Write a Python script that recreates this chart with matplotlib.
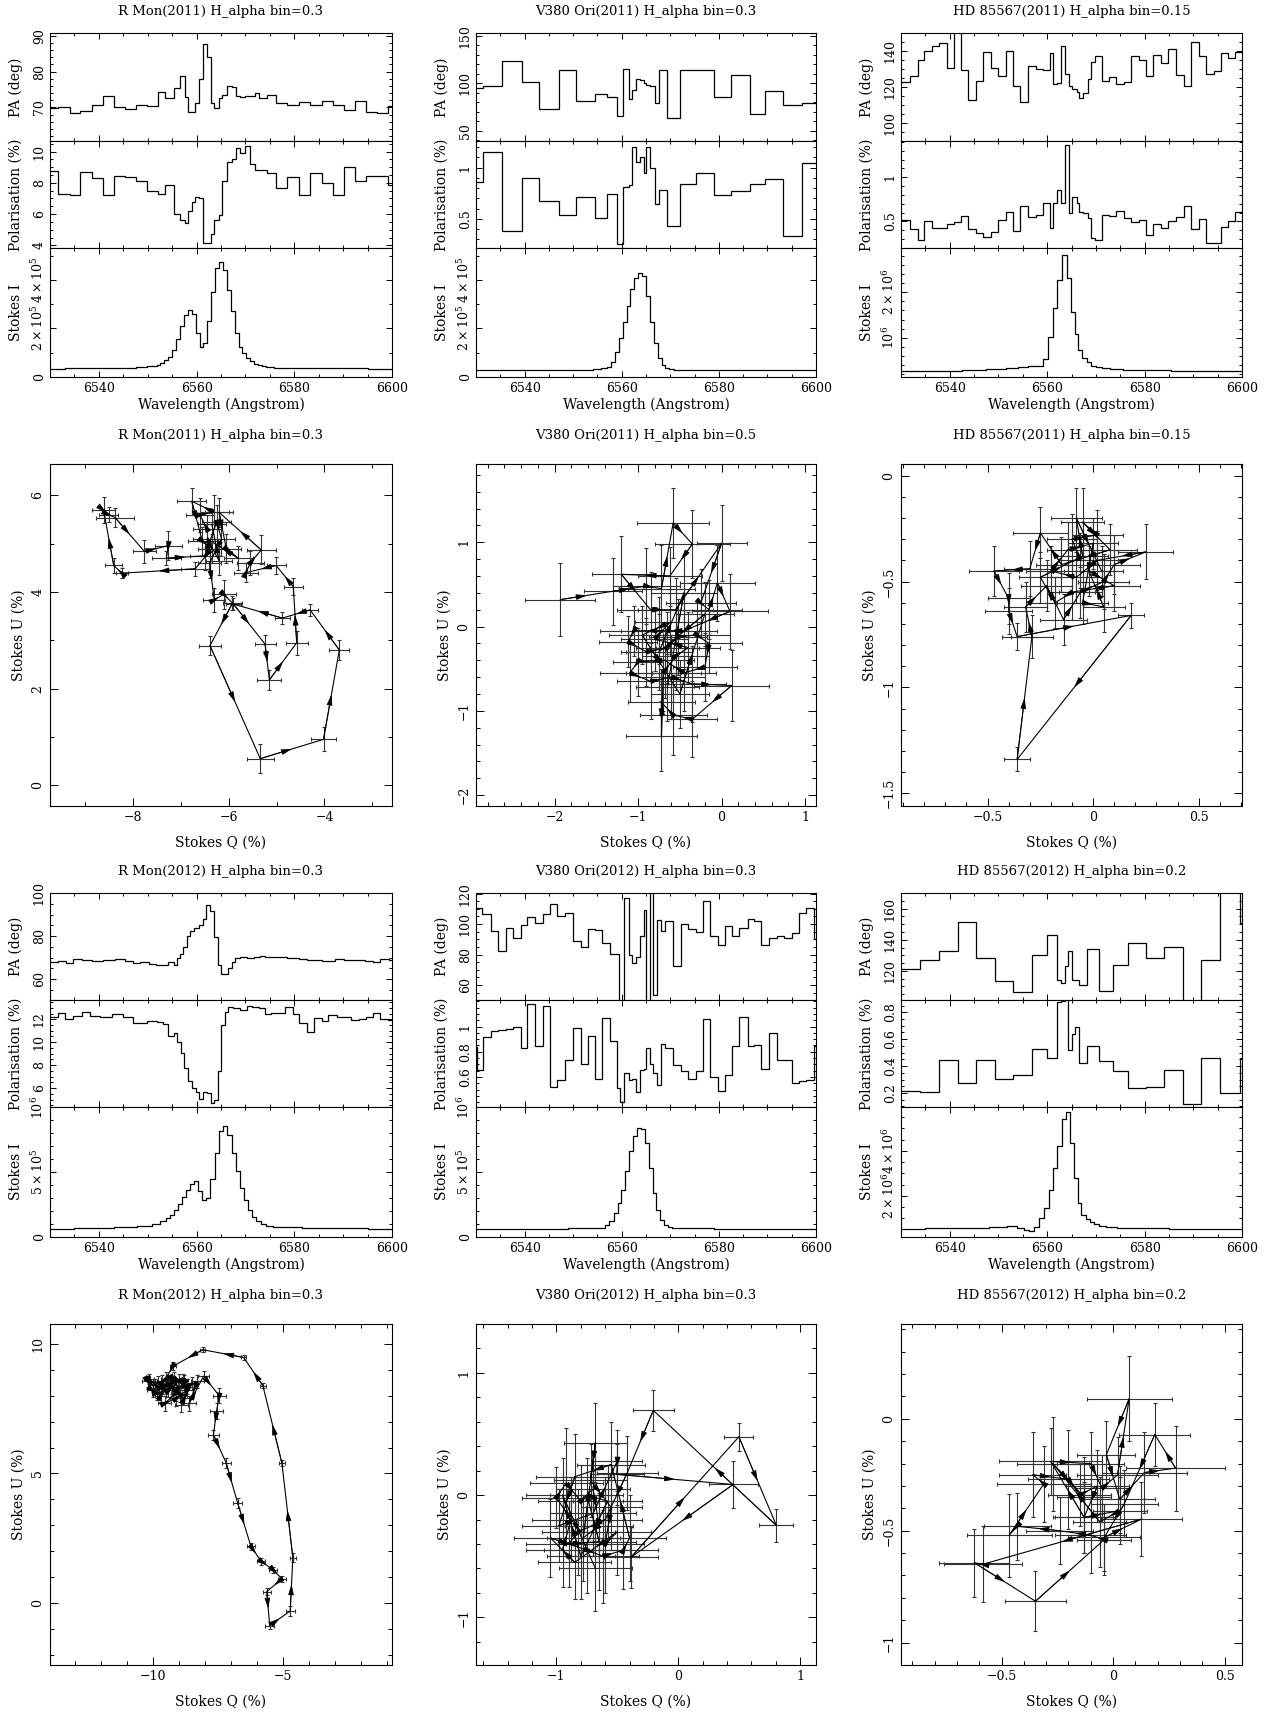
import numpy as np
import matplotlib
matplotlib.use("Agg")
import matplotlib.pyplot as plt
from matplotlib.ticker import FixedLocator, MultipleLocator, FuncFormatter, FixedFormatter

plt.rcParams["font.family"] = ["DejaVu Serif"]
plt.rcParams["mathtext.fontset"] = "dejavuserif"

# ---------------- R Mon 2011 spectrum ----------------
rmon11_edges = [6530.0, 6531.7, 6534.1, 6536.1, 6538.5, 6540.8, 6543.0, 6545.4, 6547.6, 6549.8,
                6552.1, 6553.6, 6555.3, 6556.6, 6557.7, 6558.3, 6559.0, 6559.6, 6560.5, 6561.4,
                6562.1, 6562.9, 6563.5, 6564.5, 6565.2, 6566.2, 6567.2, 6568.1, 6568.9, 6570.0,
                6571.0, 6572.0, 6572.7, 6574.4, 6576.3, 6578.6, 6581.0, 6583.3, 6585.7, 6587.9,
                6590.1, 6592.4, 6594.7, 6596.9, 6599.2, 6600.0]
rmon11_pa = [69.7, 70.0, 68.5, 69.0, 70.8, 73.3, 70.2, 69.5, 70.6, 70.3,
             74.3, 72.7, 75.5, 78.8, 73.0, 68.8, 68.6, 71.1, 77.9, 87.7,
             84.0, 71.1, 69.7, 72.5, 73.6, 76.0, 75.6, 73.3, 73.0, 73.1,
             73.2, 73.9, 72.7, 73.5, 71.3, 70.7, 71.6, 70.8, 71.8, 70.6,
             69.3, 71.8, 68.7, 68.3, 70.5]
rmon11_pol = [8.75, 7.3, 7.2, 8.7, 8.3, 7.2, 8.45, 8.35, 8.1, 7.45,
              7.3, 7.85, 6.0, 5.65, 5.45, 6.2, 6.8, 7.1, 7.0, 4.15,
              4.15, 4.7, 5.6, 5.95, 8.1, 9.35, 9.5, 10.2, 9.9, 10.35,
              9.2, 8.85, 8.8, 8.65, 7.7, 8.4, 7.2, 8.6, 8.0, 7.2,
              9.0, 8.1, 8.45, 8.45, 7.85]
rmon11_wl = [6530, 6536, 6542, 6546, 6549,
             6550.6, 6551.4, 6552.2, 6553.0, 6553.8, 6554.6, 6555.4, 6556.2, 6557.0, 6557.8,
             6558.6, 6559.4, 6560.2, 6561.0, 6561.8, 6562.6, 6563.4, 6564.2, 6565.0, 6565.8,
             6566.6, 6567.4, 6568.2, 6569.0, 6569.8, 6570.6, 6571.4, 6572.2, 6573.0, 6573.8,
             6574.6, 6575.4, 6576.2, 6577.0, 6578.6, 6582, 6590, 6600]
rmon11_flux = np.array([0.345, 0.355, 0.37, 0.39, 0.42,
                        0.44, 0.46, 0.50, 0.58, 0.69, 0.83, 1.10, 1.55, 2.10, 2.55,
                        2.75, 2.60, 1.80, 1.25, 1.38, 2.30, 3.50, 4.50, 4.75, 4.40,
                        3.60, 2.70, 1.80, 1.25, 0.98, 0.78, 0.64, 0.55, 0.49, 0.45,
                        0.42, 0.40, 0.39, 0.38, 0.37, 0.36, 0.35, 0.345]) * 1e5

# ---------------- V380 Ori 2011 spectrum ----------------
v38011_edges = [6530.0, 6531.5, 6535.4, 6539.4, 6543.0, 6547.0, 6550.6, 6554.4, 6556.9, 6559.0,
                6560.3, 6561.4, 6562.2, 6562.9, 6563.8, 6564.6, 6565.1, 6565.8, 6566.9, 6567.7,
                6569.4, 6572.0, 6575.3, 6578.9, 6582.6, 6586.4, 6589.6, 6593.3, 6597.1, 6600.0]
v38011_pa = [94.7, 97.2, 122.9, 101.1, 72.9, 113.4, 80.7, 88.4, 84.9, 65.9,
             114.8, 83.5, 93.0, 104.6, 102.8, 100.0, 98.5, 97.2, 79.6, 113.4,
             63.4, 113.4, 114.1, 85.9, 108.1, 67.6, 91.9, 77.1, 79.6]
v38011_pol = [0.864, 1.156, 0.377, 0.896, 0.669, 0.532, 0.708, 0.506, 0.740, 0.256,
              0.808, 0.831, 1.204, 1.058, 1.107, 0.945, 1.204, 0.994, 0.646, 0.782,
              0.425, 0.841, 0.951, 0.734, 0.776, 0.838, 0.890, 0.334, 1.042]
v38011_wl = [6530, 6540, 6550, 6553, 6555, 6556.6, 6557.4, 6558.2, 6559.0, 6559.8,
             6560.6, 6561.4, 6562.2, 6563.0, 6563.8, 6564.6, 6565.4, 6566.2, 6567.0, 6567.8,
             6568.6, 6569.4, 6570.2, 6571.5, 6575, 6590, 6600]
v38011_flux = np.array([0.27, 0.27, 0.28, 0.29, 0.32, 0.36, 0.41, 0.62, 1.03, 1.61,
                        2.28, 2.94, 3.61, 4.07, 4.28, 4.14, 3.35, 2.28, 1.38, 0.79,
                        0.48, 0.37, 0.32, 0.29, 0.28, 0.275, 0.275]) * 1e5

# ---------------- HD 85567 2011 spectrum ----------------
hd11_edges = [6530.0, 6531.8, 6533.4, 6534.8, 6536.3, 6537.9, 6539.4, 6540.9, 6542.3, 6543.8,
              6545.4, 6546.9, 6548.4, 6550.0, 6551.5, 6552.9, 6554.5, 6556.0, 6557.7, 6559.2,
              6560.6, 6561.3, 6562.1, 6562.9, 6563.6, 6564.4, 6565.2, 6566.1, 6566.6, 6567.3,
              6568.3, 6569.0, 6569.9, 6571.2, 6572.7, 6574.2, 6575.7, 6577.3, 6578.9, 6580.3,
              6581.8, 6583.4, 6584.9, 6586.5, 6588.0, 6589.5, 6591.1, 6592.6, 6594.2, 6595.7,
              6597.1, 6598.6, 6600.0]
hd11_pa = [122.7, 126.0, 135.3, 140.0, 142.8, 144.7, 130.7, 160.0, 129.8, 113.0,
           123.6, 139.6, 130.7, 126.0, 140.0, 120.8, 111.7, 131.6, 130.3, 129.8,
           139.1, 121.8, 122.3, 142.8, 127.5, 120.8, 119.0, 117.1, 114.0, 116.7,
           124.7, 134.0, 137.2, 123.6, 125.7, 121.8, 122.7, 137.6, 135.0, 126.0,
           138.1, 133.5, 141.3, 127.0, 120.8, 145.2, 137.2, 127.5, 129.2, 139.1,
           136.3, 139.6]
hd11_pol = [0.52, 0.41, 0.29, 0.51, 0.43, 0.43, 0.47, 0.49, 0.56, 0.41,
            0.37, 0.32, 0.38, 0.52, 0.61, 0.39, 0.67, 0.55, 0.575, 0.71,
            0.42, 0.71, 0.85, 0.71, 1.36, 0.60, 0.78, 0.71, 0.61, 0.59,
            0.54, 0.31, 0.29, 0.575, 0.56, 0.62, 0.54, 0.49, 0.52, 0.35,
            0.47, 0.43, 0.50, 0.55, 0.67, 0.41, 0.53, 0.26, 0.26, 0.44,
            0.51, 0.61]
hd11_wl = [6530, 6540, 6545, 6550, 6553, 6555, 6557, 6558.6, 6559.75, 6560.8,
           6561.7, 6562.55, 6563.5, 6564.45, 6565.35, 6566.1, 6566.75, 6567.65, 6568.6, 6569.45,
           6570.5, 6572, 6574, 6577, 6581, 6590, 6600]
hd11_flux = np.array([0.28, 0.28, 0.29, 0.31, 0.34, 0.36, 0.38, 0.39, 0.53, 1.02,
                      1.65, 2.27, 2.82, 2.31, 1.57, 1.08, 0.73, 0.56, 0.46, 0.39,
                      0.35, 0.33, 0.31, 0.295, 0.285, 0.28, 0.28]) * 1e6

# ---------------- R Mon 2012 spectrum ----------------
rmon12_pa_edges = [6530.0, 6531.7, 6533.3, 6534.8, 6536.5, 6538.5, 6540.9, 6543.3, 6545.4, 6546.9,
                   6548.4, 6550.2, 6551.7, 6554.1, 6555.3, 6556.0, 6556.6, 6557.3, 6558.0, 6558.7,
                   6559.5, 6560.4, 6561.3, 6562.0, 6562.8, 6563.6, 6564.3, 6565.0, 6566.5, 6567.2,
                   6567.9, 6568.8, 6570.3, 6571.8, 6573.0, 6574.1, 6575.1, 6578.5, 6580.9, 6582.5,
                   6585.7, 6588.4, 6590.1, 6592.2, 6594.5, 6596.1, 6597.6, 6599.3, 6600.0]
rmon12_pa = [68.1, 68.5, 67.6, 69.5, 68.8, 68.2, 68.8, 69.1, 68.2, 67.3,
             67.9, 67.0, 66.4, 68.1, 66.5, 69.6, 71.5, 74.7, 80.0, 82.3,
             83.6, 85.0, 87.8, 94.4, 91.8, 79.7, 66.5, 62.3, 65.0, 68.1,
             69.6, 70.4, 69.9, 70.1, 70.7, 70.1, 70.1, 69.8, 69.5, 68.8,
             68.5, 69.1, 68.8, 68.8, 68.5, 67.9, 69.5, 68.8]
rmon12_pol_edges = [6530.0, 6531.7, 6533.1, 6534.8, 6536.5, 6538.1, 6540.2, 6542.6, 6545.0, 6546.9,
                    6549.8, 6551.9, 6553.1, 6554.2, 6555.3, 6556.0, 6556.8, 6557.5, 6558.2, 6559.0,
                    6559.8, 6560.5, 6561.4, 6562.2, 6562.9, 6563.5, 6564.4, 6565.0, 6565.9, 6566.5,
                    6567.4, 6568.8, 6570.4, 6571.3, 6572.7, 6574.1, 6575.2, 6578.2, 6579.7, 6580.9,
                    6582.5, 6584.1, 6585.7, 6587.0, 6588.7, 6591.7, 6593.2, 6594.7, 6596.1, 6597.6,
                    6599.2, 6600.0]
rmon12_pol = [12.17, 12.58, 12.0, 12.32, 12.67, 12.29, 12.17, 12.43, 12.23, 11.65,
              11.86, 11.8, 11.59, 10.55, 10.84, 10.06, 9.04, 7.74, 6.58, 6.0,
              5.62, 5.07, 5.62, 5.57, 4.70, 4.99, 7.45, 11.51, 12.67, 13.1,
              13.01, 12.81, 13.19, 13.1, 12.96, 12.46, 12.52, 13.1, 12.46, 11.65,
              10.87, 12.09, 11.88, 12.38, 12.23, 11.94, 12.0, 12.17, 12.58, 12.0,
              11.94]
rmon12_wl = [6530, 6540, 6546, 6549.8, 6551.9, 6553.2, 6554.2, 6554.9, 6555.8, 6556.6,
             6557.5, 6558.2, 6559.0, 6559.9, 6560.7, 6561.6, 6562.4, 6563.3, 6564.2, 6565.0,
             6565.9, 6566.7, 6567.6, 6568.4, 6569.3, 6570.1, 6571.0, 6571.8, 6572.7, 6573.7,
             6574.7, 6576.4, 6578, 6580, 6583, 6590, 6600]
rmon12_flux = np.array([0.065, 0.068, 0.075, 0.083, 0.104, 0.122, 0.143, 0.169, 0.208, 0.252,
                        0.306, 0.364, 0.41, 0.429, 0.358, 0.286, 0.299, 0.447, 0.649, 0.818,
                        0.857, 0.784, 0.649, 0.506, 0.377, 0.286, 0.208, 0.156, 0.122, 0.099,
                        0.083, 0.078, 0.075, 0.078, 0.07, 0.066, 0.065]) * 1e6

# ---------------- V380 Ori 2012 spectrum ----------------
v38012_pa_edges = [6530.0, 6531.2, 6533.1, 6534.6, 6536.2, 6537.7, 6539.3, 6540.6, 6542.1, 6543.7,
                   6545.2, 6546.7, 6548.3, 6550.0, 6551.6, 6553.1, 6554.5, 6556.0, 6557.5, 6559.5,
                   6560.5, 6561.4, 6562.2, 6562.9, 6563.8, 6564.5, 6565.1, 6565.8, 6566.5, 6567.3,
                   6568.0, 6568.9, 6570.6, 6572.2, 6573.7, 6575.3, 6576.8, 6578.2, 6579.8, 6581.3,
                   6582.8, 6584.2, 6585.9, 6587.3, 6588.7, 6590.3, 6591.9, 6593.5, 6595.1, 6596.6,
                   6597.9, 6599.5, 6600.0]
v38012_pa = [110.8, 106.9, 95.3, 82.5, 97.7, 91.0, 99.3, 104.7, 101.0, 106.3,
             113.5, 105.2, 107.6, 88.8, 84.7, 96.7, 95.8, 87.7, 80.7, 35.0,
             117.4, 79.6, 74.6, 78.5, 92.3, 109.5, 35.0, 135.0, 53.5, 102.5,
             95.3, 102.1, 72.4, 100.0, 97.1, 94.9, 115.2, 92.1, 86.2, 98.6,
             92.3, 97.5, 103.2, 101.9, 86.2, 91.2, 92.1, 91.2, 94.3, 107.6,
             110.6, 90.1]
v38012_pol_edges = [6530.0, 6530.3, 6531.5, 6533.1, 6534.6, 6536.2, 6537.7, 6539.3, 6540.6, 6542.1,
                    6543.7, 6545.2, 6546.7, 6548.3, 6550.0, 6551.6, 6553.1, 6554.5, 6556.0, 6557.5,
                    6559.0, 6559.7, 6560.5, 6561.4, 6562.2, 6562.9, 6563.8, 6564.5, 6565.1, 6565.8,
                    6566.5, 6567.3, 6568.0, 6568.9, 6570.6, 6572.2, 6573.7, 6575.3, 6576.8, 6578.2,
                    6579.8, 6581.3, 6582.8, 6584.2, 6585.9, 6587.3, 6588.7, 6590.3, 6591.9, 6593.5,
                    6595.1, 6596.6, 6597.9, 6599.5, 6600.0]
v38012_pol = [0.837, 0.653, 0.916, 0.968, 0.974, 0.982, 0.995, 0.829, 1.18, 0.845,
              1.166, 0.521, 0.574, 0.732, 0.987, 0.70, 0.924, 0.587, 1.066, 0.882,
              0.516, 0.403, 0.632, 0.574, 0.587, 0.482, 0.653, 0.661, 0.829, 0.70,
              0.634, 0.539, 0.863, 0.829, 0.692, 0.647, 0.587, 0.647, 1.061, 0.60,
              0.487, 0.618, 0.845, 1.074, 0.845, 0.855, 0.661, 0.95, 0.739, 0.732,
              0.555, 0.566, 0.574, 0.845]
v38012_wl = [6530, 6545, 6553, 6555.5, 6556.2, 6557.0, 6557.9, 6558.8, 6559.5, 6560.3,
             6561.2, 6561.9, 6562.7, 6563.6, 6564.3, 6565.1, 6566.0, 6566.7, 6567.5, 6568.4,
             6569.1, 6569.9, 6571.0, 6573, 6585, 6600]
v38012_flux = np.array([0.065, 0.065, 0.066, 0.068, 0.07, 0.091, 0.122, 0.182, 0.26, 0.364,
                        0.506, 0.667, 0.779, 0.844, 0.836, 0.727, 0.532, 0.338, 0.208, 0.135,
                        0.096, 0.078, 0.07, 0.066, 0.065, 0.065]) * 1e6

# ---------------- HD 85567 2012 spectrum ----------------
hd12_pa_edges = [6530.0, 6533.9, 6537.8, 6541.6, 6545.4, 6549.2, 6552.9, 6556.8, 6559.9, 6562.0,
                 6562.9, 6563.7, 6564.2, 6565.1, 6566.6, 6568.2, 6570.7, 6573.5, 6576.6, 6580.3,
                 6584.0, 6587.8, 6591.6, 6595.4, 6599.5, 6600.0]
hd12_pa = [121.3, 127.1, 132.9, 151.4, 128.6, 113.5, 106.2, 130.3, 142.8, 114.2,
           112.5, 123.2, 132.5, 114.2, 111.0, 134.0, 107.3, 123.9, 137.8, 128.2,
           135.7, 95.0, 127.1, 175.0, 150.8]
hd12_pol_edges = [6530.0, 6533.9, 6537.8, 6541.6, 6545.4, 6549.2, 6552.9, 6556.8, 6559.9, 6562.0,
                  6562.9, 6563.7, 6564.2, 6565.1, 6565.8, 6566.6, 6568.2, 6570.7, 6573.5, 6576.6,
                  6580.3, 6584.0, 6587.8, 6591.6, 6595.4, 6599.5, 6600.0]
hd12_pol = [0.215, 0.207, 0.442, 0.274, 0.442, 0.306, 0.331, 0.528, 0.462, 0.874,
            0.886, 0.90, 0.523, 0.640, 0.694, 0.425, 0.546, 0.437, 0.360, 0.237,
            0.244, 0.373, 0.116, 0.462, 0.200, 0.459]
hd12_wl = [6530, 6540, 6546, 6550.3, 6553.1, 6554.5, 6555.8, 6556.8, 6557.9, 6558.9,
           6559.9, 6560.8, 6561.6, 6562.5, 6563.4, 6564.2, 6565.1, 6565.9, 6566.6, 6567.5,
           6568.3, 6569.2, 6570.2, 6571.2, 6572.9, 6575.7, 6580, 6590, 6600]
hd12_flux = np.array([0.54, 0.55, 0.58, 0.62, 0.65, 0.57, 0.47, 0.44, 0.62, 0.99,
                      1.44, 2.24, 3.25, 4.23, 5.43, 5.73, 4.35, 2.80, 1.67, 1.14,
                      0.95, 0.84, 0.74, 0.66, 0.62, 0.57, 0.55, 0.54, 0.54]) * 1e6

# ---------------- QU tracks ----------------
rmon11_q = [-6.45, -6.60, -6.30, -6.77, -6.55, -6.35, -6.70, -8.23, -8.40, -8.61, -8.50, -8.37,
            -7.76, -7.26, -7.30, -6.50, -6.25, -6.15, -6.40, -6.30, -6.10, -5.92, -6.39, -5.34,
            -4.02, -3.69, -4.30, -4.88, -5.90, -5.24, -5.15, -4.58, -4.65, -5.01, -5.64, -5.55,
            -5.32, -6.20, -6.05, -5.80, -6.45, -6.20, -6.35]
rmon11_u = [5.30, 5.60, 5.65, 5.88, 5.05, 4.90, 4.48, 4.39, 4.55, 5.69, 5.60, 5.54,
            4.84, 4.96, 4.70, 4.75, 5.45, 5.10, 4.60, 3.84, 3.95, 3.77, 2.89, 0.55,
            0.95, 2.80, 3.63, 3.46, 3.75, 2.92, 2.18, 2.95, 4.11, 4.55, 4.40, 4.60,
            4.87, 5.65, 4.90, 4.70, 5.10, 4.65, 5.40]
rmon11_qe = [0.30, 0.30, 0.30, 0.30, 0.30, 0.30, 0.29, 0.13, 0.18, 0.24, 0.20, 0.40,
             0.24, 0.28, 0.30, 0.30, 0.30, 0.28, 0.25, 0.23, 0.25, 0.20, 0.22, 0.28,
             0.27, 0.21, 0.17, 0.16, 0.15, 0.22, 0.25, 0.23, 0.20, 0.20, 0.25, 0.28,
             0.30, 0.30, 0.30, 0.30, 0.30, 0.28, 0.30]
rmon11_ue = [0.30, 0.35, 0.35, 0.28, 0.30, 0.30, 0.15, 0.10, 0.15, 0.27, 0.15, 0.20,
             0.24, 0.30, 0.15, 0.30, 0.35, 0.35, 0.30, 0.25, 0.30, 0.15, 0.20, 0.30,
             0.25, 0.20, 0.13, 0.12, 0.12, 0.20, 0.20, 0.25, 0.18, 0.18, 0.20, 0.25,
             0.30, 0.30, 0.30, 0.25, 0.30, 0.30, 0.30]

v38011_q = [-1.93, -1.30, -0.90, -0.72, -0.58, -0.35, -0.62, -1.20, -0.85, -0.55, 0.00, -0.25,
            -0.15, -0.05, 0.10, -0.45, -0.75, -1.05, -1.12, -0.90, -0.65, -0.52, -0.30, -0.15,
            -0.20, -0.45, -0.68, -1.00, -1.10, -0.85, -0.60, -0.35, 0.12, -0.35, -0.58, -0.72,
            -0.72, -0.70, -0.55, -0.40, -0.80, -0.62, -0.95, -0.50, -0.20, -0.75, -0.45, -0.65]
v38011_u = [0.32, 0.42, 0.48, 0.45, 1.23, 0.98, 0.60, 0.62, 0.20, 0.20, 0.99, 0.28,
            0.20, 0.52, 0.18, -0.05, -0.05, -0.05, -0.18, -0.30, -0.25, -0.12, -0.10, -0.20,
            -0.48, -0.55, -0.40, -0.42, -0.55, -0.65, -0.60, -0.68, -0.70, -1.10, -1.05, -0.90,
            -1.30, -0.55, -0.35, -0.25, -0.15, 0.05, -0.10, -0.80, 0.15, -0.30, 0.40, -0.72]
v38011_qe = [0.42, 0.35, 0.40, 0.40, 0.43, 0.45, 0.38, 0.35, 0.40, 0.45, 0.30, 0.42,
             0.40, 0.45, 0.45, 0.40, 0.45, 0.40, 0.35, 0.30, 0.38, 0.35, 0.40, 0.40,
             0.38, 0.38, 0.35, 0.30, 0.35, 0.40, 0.40, 0.40, 0.45, 0.30, 0.40, 0.40,
             0.43, 0.45, 0.40, 0.38, 0.40, 0.42, 0.40, 0.35, 0.35, 0.40, 0.40, 0.38]
v38011_ue = [0.43, 0.40, 0.45, 0.52, 0.42, 0.40, 0.35, 0.45, 0.45, 0.38, 0.45, 0.40,
             0.35, 0.45, 0.45, 0.45, 0.40, 0.30, 0.30, 0.40, 0.42, 0.45, 0.38, 0.35,
             0.40, 0.45, 0.45, 0.40, 0.35, 0.45, 0.50, 0.45, 0.42, 0.45, 0.48, 0.40,
             0.42, 0.45, 0.40, 0.42, 0.38, 0.40, 0.35, 0.40, 0.38, 0.45, 0.45, 0.40]

hd11_q = [-0.06, -0.10, 0.02, -0.05, 0.08, -0.15, -0.25, -0.30, -0.47, -0.40, -0.40, -0.36,
          0.18, -0.36, -0.29, -0.32, -0.22, -0.14, -0.06, 0.05, 0.10, 0.25, 0.02, -0.08,
          -0.20, -0.12, 0.00, -0.05, 0.05, -0.02, 0.10, -0.10, -0.18, -0.25, -0.05, -0.08, 0.04]
hd11_u = [-0.40, -0.30, -0.28, -0.22, -0.35, -0.42, -0.27, -0.44, -0.45, -0.58, -0.64, -0.76,
          -0.66, -1.34, -0.76, -0.62, -0.52, -0.68, -0.55, -0.50, -0.42, -0.36, -0.40, -0.48,
          -0.45, -0.35, -0.32, -0.60, -0.62, -0.45, -0.52, -0.55, -0.60, -0.48, -0.38, -0.20, -0.45]
hd11_qe = [0.10, 0.12, 0.12, 0.10, 0.13, 0.12, 0.13, 0.12, 0.12, 0.10, 0.11, 0.07,
           0.06, 0.06, 0.10, 0.10, 0.12, 0.11, 0.10, 0.12, 0.12, 0.13, 0.10, 0.12,
           0.12, 0.10, 0.12, 0.12, 0.10, 0.12, 0.12, 0.11, 0.12, 0.10, 0.12, 0.12, 0.10]
hd11_ue = [0.13, 0.12, 0.12, 0.16, 0.12, 0.13, 0.12, 0.13, 0.12, 0.12, 0.11, 0.065,
           0.06, 0.057, 0.10, 0.12, 0.12, 0.12, 0.12, 0.13, 0.14, 0.13, 0.14, 0.12,
           0.12, 0.13, 0.12, 0.10, 0.12, 0.12, 0.12, 0.13, 0.12, 0.12, 0.16, 0.14, 0.12]

rmon12_q = [-9.60, -9.80, -10.20, -10.00, -9.70, -9.50, -9.20, -9.00, -8.80, -9.10, -9.55, -9.10,
            -8.70, -8.90, -8.50, -8.30, -8.60, -8.05, -7.45, -7.55, -7.67, -7.18, -6.74, -6.23,
            -5.83, -5.38, -5.04, -5.62, -5.51, -4.72, -4.62, -5.04, -5.77, -6.51, -8.08, -9.23,
            -9.50, -9.90, -10.15, -9.85, -9.40, -9.00, -8.70, -9.25, -8.95, -9.35, -8.85, -9.65]
rmon12_u = [8.30, 8.50, 8.55, 8.20, 8.00, 8.40, 8.60, 8.30, 8.50, 8.10, 7.70, 7.90,
            8.20, 7.65, 8.45, 8.55, 7.70, 8.75, 8.00, 7.40, 6.49, 5.40, 3.86, 2.19,
            1.61, 1.29, 0.94, 0.45, -0.86, -0.30, 1.76, 5.40, 8.38, 9.47, 9.77, 9.13,
            8.65, 8.40, 8.65, 8.10, 8.20, 8.55, 8.35, 8.30, 8.05, 8.45, 8.60, 8.55]
rmon12_qe = [0.20, 0.20, 0.20, 0.22, 0.20, 0.22, 0.22, 0.22, 0.25, 0.22, 0.25, 0.25,
             0.25, 0.25, 0.25, 0.25, 0.25, 0.20, 0.25, 0.25, 0.20, 0.18, 0.18, 0.15,
             0.15, 0.15, 0.15, 0.15, 0.18, 0.18, 0.12, 0.10, 0.10, 0.10, 0.10, 0.12,
             0.20, 0.20, 0.20, 0.20, 0.22, 0.22, 0.22, 0.22, 0.22, 0.22, 0.22, 0.20]
rmon12_ue = [0.25, 0.25, 0.20, 0.25, 0.25, 0.25, 0.30, 0.30, 0.30, 0.30, 0.30, 0.30,
             0.30, 0.30, 0.25, 0.25, 0.30, 0.20, 0.30, 0.30, 0.20, 0.20, 0.20, 0.15,
             0.12, 0.12, 0.12, 0.15, 0.15, 0.20, 0.18, 0.12, 0.10, 0.10, 0.10, 0.15,
             0.25, 0.25, 0.20, 0.25, 0.25, 0.30, 0.30, 0.25, 0.30, 0.25, 0.25, 0.25]

v38012_q = [-0.95, -0.88, -1.00, -0.92, -0.80, -0.70, -0.65, -0.78, -0.68, -0.72,
            -0.55, -0.60, -0.50, -0.85, -1.05, -0.75, -0.62, -0.45, -0.40, -0.55,
            -0.85, -0.98, -0.70, -0.50, -0.505, 0.45, -0.39, 0.497, 0.805, -0.205,
            -0.42, -0.60, -0.82, -0.90, -0.65, -0.75, -0.58, -0.80, -0.95, -0.68]
v38012_u = [-0.45, -0.20, -0.02, 0.10, -0.05, 0.05, -0.25, -0.35, 0.43, 0.12,
            -0.10, -0.40, -0.30, -0.55, -0.35, -0.45, -0.50, -0.45, -0.35, 0.25,
            0.15, -0.25, -0.15, 0.28, 0.17, 0.087, -0.51, 0.477, -0.248, 0.693,
            0.18, -0.20, -0.30, -0.40, -0.38, 0.00, -0.05, -0.50, 0.00, -0.60]
v38012_qe = [0.30, 0.32, 0.28, 0.30, 0.35, 0.30, 0.28, 0.30, 0.26, 0.30,
             0.25, 0.32, 0.28, 0.30, 0.30, 0.35, 0.30, 0.28, 0.30, 0.28,
             0.32, 0.30, 0.35, 0.20, 0.22, 0.20, 0.22, 0.12, 0.14, 0.17,
             0.25, 0.30, 0.30, 0.35, 0.30, 0.30, 0.28, 0.28, 0.30, 0.30]
v38012_ue = [0.30, 0.35, 0.25, 0.45, 0.30, 0.30, 0.30, 0.35, 0.32, 0.30,
             0.35, 0.40, 0.35, 0.30, 0.32, 0.35, 0.38, 0.32, 0.35, 0.35,
             0.35, 0.30, 0.35, 0.25, 0.25, 0.195, 0.25, 0.115, 0.137, 0.17,
             0.30, 0.35, 0.35, 0.35, 0.40, 0.30, 0.30, 0.35, 0.30, 0.35]

hd12_q = [-0.13, -0.28, -0.10, -0.05, 0.02, 0.072, -0.03, 0.03, 0.14, 0.28, 0.187, 0.05,
          -0.04, 0.127, -0.585, -0.622, -0.348, -0.04, -0.10, -0.24, -0.43, -0.466, -0.31, -0.36,
          -0.20, -0.15, -0.07, -0.13, 0.03, -0.06, -0.27, -0.13]
hd12_u = [-0.44, -0.19, -0.20, -0.31, -0.25, 0.09, -0.16, -0.36, -0.24, -0.22, -0.07, -0.38,
          -0.53, -0.448, -0.65, -0.643, -0.815, -0.54, -0.52, -0.50, -0.48, -0.52, -0.29, -0.25,
          -0.27, -0.34, -0.30, -0.44, -0.41, -0.46, -0.20, -0.35]
hd12_qe = [0.14, 0.23, 0.15, 0.12, 0.18, 0.19, 0.13, 0.16, 0.19, 0.22, 0.16, 0.15,
           0.16, 0.18, 0.175, 0.157, 0.137, 0.12, 0.16, 0.15, 0.15, 0.19, 0.21, 0.15,
           0.18, 0.14, 0.14, 0.13, 0.12, 0.12, 0.16, 0.12]
hd12_ue = [0.16, 0.15, 0.14, 0.15, 0.17, 0.19, 0.15, 0.15, 0.18, 0.19, 0.14, 0.15,
           0.15, 0.167, 0.17, 0.153, 0.134, 0.16, 0.17, 0.15, 0.15, 0.185, 0.17, 0.19,
           0.22, 0.14, 0.16, 0.16, 0.15, 0.20, 0.21, 0.18]

# ---------------- figure ----------------
W, H = 1267, 1714
fig = plt.figure(figsize=(W / 100, H / 100), dpi=100)
COLS = [(50, 392), (476, 816), (901, 1242)]
TICK_FS = 9
LABEL_FS = 10
TITLE_FS = 9.5


def px_axes(x0, y0, x1, y1):
    return fig.add_axes([x0 / W, 1 - y1 / H, (x1 - x0) / W, (y1 - y0) / H])


def num(v, pos=None):
    return f"{v:g}".replace("-", "\u2212")


def style(ax, xmaj, xmin, ymaj, ymin, big=False):
    ax.xaxis.set_major_locator(FixedLocator(xmaj))
    ax.xaxis.set_minor_locator(MultipleLocator(xmin))
    ax.yaxis.set_major_locator(FixedLocator(ymaj))
    ax.yaxis.set_minor_locator(MultipleLocator(ymin))
    ax.xaxis.set_major_formatter(FuncFormatter(num))
    ax.yaxis.set_major_formatter(FuncFormatter(num))
    ax.tick_params(which="both", direction="in", top=True, right=True,
                   labelsize=TICK_FS, width=0.7, pad=3.5)
    ax.tick_params(which="major", length=6 if big else 4)
    ax.tick_params(which="minor", length=3 if big else 2)
    ax.tick_params(axis="y", labelrotation=90, pad=4 if big else 3)
    for s in ax.spines.values():
        s.set_linewidth(0.8)


def spectrum(col, top, b1, b2, bottom, s):
    x0, x1 = COLS[col]
    ax_pa = px_axes(x0, top, x1, b1)
    ax_pol = px_axes(x0, b1, x1, b2)
    ax_i = px_axes(x0, b2, x1, bottom)

    ax_pa.stairs(s["pa"], s["pa_edges"], baseline=None, color="k", lw=0.9)
    ax_pol.stairs(s["pol"], s["pol_edges"], baseline=None, color="k", lw=0.9)
    ax_i.step(s["wl"], s["flux"], where="mid", color="k", lw=0.9)

    ax_pa.set_ylim(*s["pa_lim"])
    ax_pol.set_ylim(*s["pol_lim"])
    ax_i.set_ylim(*s["i_lim"])
    for ax in (ax_pa, ax_pol, ax_i):
        ax.set_xlim(6530, 6600)
    style(ax_pa, [6540, 6560, 6580, 6600], 5, s["pa_ticks"], s["pa_minor"])
    style(ax_pol, [6540, 6560, 6580, 6600], 5, s["pol_ticks"], s["pol_minor"])
    style(ax_i, [6540, 6560, 6580, 6600], 5, s["i_ticks"], s["i_minor"])
    ax_i.yaxis.set_major_formatter(FixedFormatter(s["i_labels"]))
    ax_pa.tick_params(labelbottom=False)
    ax_pol.tick_params(labelbottom=False)

    w = x1 - x0
    for ax, lab in ((ax_pa, "PA (deg)"), (ax_pol, "Polarisation (%)"), (ax_i, "Stokes I")):
        ax.set_ylabel(lab, fontsize=LABEL_FS, va="center")
        ax.yaxis.set_label_coords(-34 / w, 0.5)
    ax_i.set_xlabel("Wavelength (Angstrom)", fontsize=LABEL_FS, va="center")
    ax_i.xaxis.set_label_coords(0.5, -28 / (bottom - b2))
    fig.text((x0 + x1) / 2 / W, 1 - (top - 22) / H, s["title"],
             ha="center", va="center", fontsize=TITLE_FS)


def qu_panel(col, top, bottom, s):
    x0, x1 = COLS[col]
    ax = px_axes(x0, top, x1, bottom)
    q, u = s["q"], s["u"]
    ax.errorbar(q, u, xerr=s["qe"], yerr=s["ue"], fmt="none", ecolor="0.2",
                elinewidth=0.8, capsize=1.6, capthick=0.8)
    ax.plot(q, u, color="k", lw=0.8)
    # arrow head half way along each step, pointing towards longer wavelength
    for i in range(len(q) - 1):
        xm, ym = (q[i] + q[i + 1]) / 2, (u[i] + u[i + 1]) / 2
        ax.annotate("", xy=(xm, ym), xytext=(q[i], u[i]),
                    arrowprops=dict(arrowstyle="-|>,head_length=0.75,head_width=0.2",
                                    color="k", lw=0.6, shrinkA=0, shrinkB=0,
                                    mutation_scale=8.5))
    ax.set_xlim(*s["xlim"])
    ax.set_ylim(*s["ylim"])
    style(ax, s["xticks"], s["xminor"], s["yticks"], s["yminor"], big=True)
    ax.set_xlabel("Stokes Q (%)", fontsize=LABEL_FS, va="center")
    ax.xaxis.set_label_coords(0.5, -37 / (bottom - top))
    ax.set_ylabel("Stokes U (%)", fontsize=LABEL_FS, va="center")
    ax.yaxis.set_label_coords(-31 / (x1 - x0), 0.5)
    fig.text((x0 + x1) / 2 / W, 1 - (top - 29) / H, s["title"],
             ha="center", va="center", fontsize=TITLE_FS)


lab_e5 = ["0", r"$2\times10^{5}$", r"$4\times10^{5}$"]
lab_e6 = ["0", r"$5\times10^{5}$", r"$10^{6}$"]

spectra = [
    (0, 0, dict(title="R Mon(2011) H_alpha bin=0.3",
                pa_edges=rmon11_edges, pa=rmon11_pa, pol_edges=rmon11_edges, pol=rmon11_pol,
                wl=rmon11_wl, flux=rmon11_flux,
                pa_lim=(60.6, 90.8), pa_ticks=[70, 80, 90], pa_minor=2,
                pol_lim=(3.83, 10.68), pol_ticks=[4, 6, 8, 10], pol_minor=0.5,
                i_lim=(0, 5.31e5), i_ticks=[0, 2e5, 4e5], i_labels=lab_e5, i_minor=1e5)),
    (1, 0, dict(title="V380 Ori(2011) H_alpha bin=0.3",
                pa_edges=v38011_edges, pa=v38011_pa, pol_edges=v38011_edges, pol=v38011_pol,
                wl=v38011_wl, flux=v38011_flux,
                pa_lim=(39.1, 152.8), pa_ticks=[50, 100, 150], pa_minor=10,
                pol_lim=(0.214, 1.26), pol_ticks=[0.5, 1.0], pol_minor=0.1,
                i_lim=(0, 5.31e5), i_ticks=[0, 2e5, 4e5], i_labels=lab_e5, i_minor=1e5)),
    (2, 0, dict(title="HD 85567(2011) H_alpha bin=0.15",
                pa_edges=hd11_edges, pa=hd11_pa, pol_edges=hd11_edges, pol=hd11_pol,
                wl=hd11_wl, flux=hd11_flux,
                pa_lim=(90.1, 150.2), pa_ticks=[100, 120, 140], pa_minor=5,
                pol_lim=(0.199, 1.41), pol_ticks=[0.5, 1.0], pol_minor=0.1,
                i_lim=(0.14e6, 2.97e6), i_ticks=[1e6, 2e6],
                i_labels=[r"$10^{6}$", r"$2\times10^{6}$"], i_minor=0.2e6)),
    (0, 1, dict(title="R Mon(2012) H_alpha bin=0.3",
                pa_edges=rmon12_pa_edges, pa=rmon12_pa, pol_edges=rmon12_pol_edges, pol=rmon12_pol,
                wl=rmon12_wl, flux=rmon12_flux,
                pa_lim=(50.2, 100.05), pa_ticks=[60, 80, 100], pa_minor=5,
                pol_lim=(4.35, 13.68), pol_ticks=[6, 8, 10, 12], pol_minor=0.5,
                i_lim=(0, 1.003e6), i_ticks=[0, 5e5, 1e6], i_labels=lab_e6, i_minor=1e5)),
    (1, 1, dict(title="V380 Ori(2012) H_alpha bin=0.3",
                pa_edges=v38012_pa_edges, pa=v38012_pa, pol_edges=v38012_pol_edges, pol=v38012_pol,
                wl=v38012_wl, flux=v38012_flux,
                pa_lim=(50.2, 120.4), pa_ticks=[60, 80, 100, 120], pa_minor=5,
                pol_lim=(0.363, 1.21), pol_ticks=[0.6, 0.8, 1.0], pol_minor=0.05,
                i_lim=(0, 1.003e6), i_ticks=[0, 5e5, 1e6], i_labels=lab_e6, i_minor=1e5)),
    (2, 1, dict(title="HD 85567(2012) H_alpha bin=0.2",
                pa_edges=hd12_pa_edges, pa=hd12_pa, pol_edges=hd12_pol_edges, pol=hd12_pol,
                wl=hd12_wl, flux=hd12_flux,
                pa_lim=(101.3, 170.1), pa_ticks=[120, 140, 160], pa_minor=5,
                pol_lim=(0.096, 0.891), pol_ticks=[0.2, 0.4, 0.6, 0.8], pol_minor=0.05,
                i_lim=(0.165e6, 5.95e6), i_ticks=[2e6, 4e6],
                i_labels=[r"$2\times10^{6}$", r"$4\times10^{6}$"], i_minor=0.5e6)),
]
SPEC_ROWS = [(33, 141, 248, 377), (893, 1000, 1107, 1237)]
for col, row, s in spectra:
    spectrum(col, *SPEC_ROWS[row], s)

tracks = [
    (0, 0, dict(title="R Mon(2011) H_alpha bin=0.3", q=rmon11_q, u=rmon11_u, qe=rmon11_qe, ue=rmon11_ue,
                xlim=(-9.73, -2.59), ylim=(-0.43, 6.65), xticks=[-8, -6, -4], xminor=1,
                yticks=[0, 2, 4, 6], yminor=1)),
    (1, 0, dict(title="V380 Ori(2011) H_alpha bin=0.5", q=v38011_q, u=v38011_u, qe=v38011_qe, ue=v38011_ue,
                xlim=(-2.94, 1.13), ylim=(-2.13, 1.93), xticks=[-2, -1, 0, 1], xminor=0.2,
                yticks=[-2, -1, 0, 1], yminor=0.2)),
    (2, 0, dict(title="HD 85567(2011) H_alpha bin=0.15", q=hd11_q, u=hd11_u, qe=hd11_qe, ue=hd11_ue,
                xlim=(-0.91, 0.705), ylim=(-1.56, 0.055), xticks=[-0.5, 0, 0.5], xminor=0.1,
                yticks=[-1.5, -1, -0.5, 0], yminor=0.1)),
    (0, 1, dict(title="R Mon(2012) H_alpha bin=0.3", q=rmon12_q, u=rmon12_u, qe=rmon12_qe, ue=rmon12_ue,
                xlim=(-13.95, -0.81), ylim=(-2.38, 10.76), xticks=[-10, -5], xminor=1,
                yticks=[0, 5, 10], yminor=1)),
    (1, 1, dict(title="V380 Ori(2012) H_alpha bin=0.3", q=v38012_q, u=v38012_u, qe=v38012_qe, ue=v38012_ue,
                xlim=(-1.66, 1.13), ylim=(-1.39, 1.40), xticks=[-1, 0, 1], xminor=0.2,
                yticks=[-1, 0, 1], yminor=0.2)),
    (2, 1, dict(title="HD 85567(2012) H_alpha bin=0.2", q=hd12_q, u=hd12_u, qe=hd12_qe, ue=hd12_ue,
                xlim=(-0.951, 0.578), ylim=(-1.10, 0.424), xticks=[-0.5, 0, 0.5], xminor=0.1,
                yticks=[-1, -0.5, 0], yminor=0.1)),
]
QU_ROWS = [(464, 806), (1324, 1665)]
for col, row, s in tracks:
    qu_panel(col, *QU_ROWS[row], s)

for ax in fig.axes:
    for lbl in ax.get_yticklabels():
        lbl.set_va("center")

fig.savefig("out.png", dpi=100, facecolor="white")
